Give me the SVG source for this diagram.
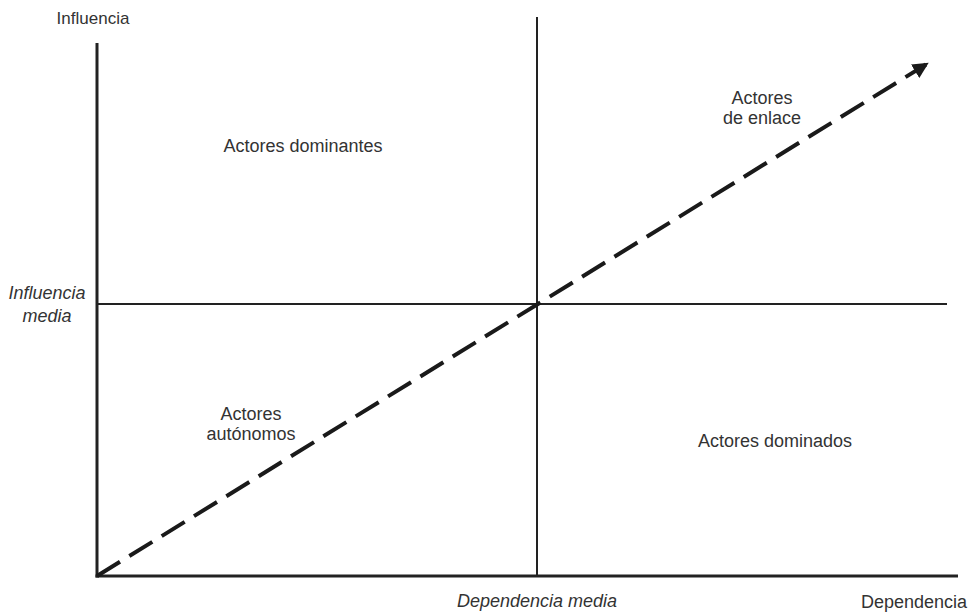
<svg xmlns="http://www.w3.org/2000/svg" width="971" height="613" viewBox="0 0 971 613">
<style>
  .t { font-family: "Liberation Sans", Arial, sans-serif; font-size: 18px; fill: #333; text-anchor: middle; }
  .i { font-style: italic; }
  .ax { stroke: #222; stroke-width: 3; fill: none; }
  .mid { stroke: #222; stroke-width: 2; fill: none; }
  .dash { stroke: #1a1a1a; stroke-width: 4; stroke-dasharray: 27 11; fill: none; }
</style>
<defs>
  <marker id="arr" viewBox="0 0 10 10" refX="8" refY="5" markerWidth="4" markerHeight="4" markerUnits="strokeWidth" orient="auto">
    <path d="M0,0 L10,5 L0,10 Z" fill="#1a1a1a"/>
  </marker>
</defs>
<rect width="971" height="613" fill="#fff"/>
<g id="axes">
  <line class="ax" x1="97" y1="43" x2="97" y2="577.5"/>
  <line class="ax" x1="95.5" y1="576" x2="958" y2="576"/>
  <line class="mid" x1="537" y1="17" x2="537" y2="576"/>
  <line class="mid" x1="97" y1="304" x2="947" y2="304"/>
</g>
<g id="connectors">
  <line class="dash" x1="97" y1="576" x2="926" y2="64.5" marker-end="url(#arr)"/>
</g>
<g id="labels">
  <text class="t" x="93" y="24" style="font-size:17px">Influencia</text>
  <text class="t i" x="47" y="299">Influencia</text>
  <text class="t i" x="47" y="322">media</text>
  <text class="t i" x="537" y="607">Dependencia media</text>
  <text class="t" x="914" y="608">Dependencia</text>
</g>
<g id="q-dominantes"><text class="t" x="303" y="152">Actores dominantes</text></g>
<g id="q-enlace">
  <text class="t" x="762" y="104">Actores</text>
  <text class="t" x="762" y="124">de enlace</text>
</g>
<g id="q-autonomos">
  <text class="t" x="251" y="420">Actores</text>
  <text class="t" x="251" y="440">autónomos</text>
</g>
<g id="q-dominados"><text class="t" x="775" y="447">Actores dominados</text></g>
</svg>
